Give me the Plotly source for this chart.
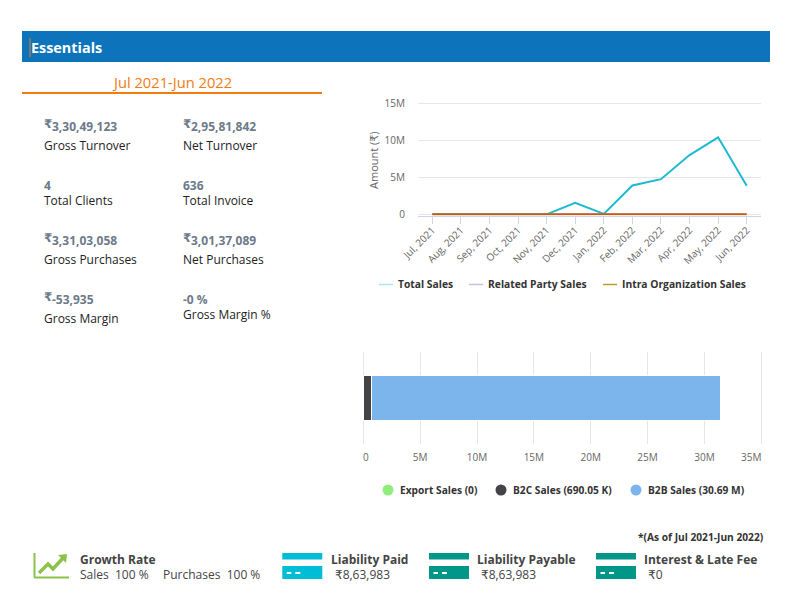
import plotly.graph_objects as go

W, H = 796, 602
FONT = "Open Sans, DejaVu Sans, sans-serif"

# line chart data
months = ["Jul, 2021", "Aug, 2021", "Sep, 2021", "Oct, 2021", "Nov, 2021", "Dec, 2021",
          "Jan, 2022", "Feb, 2022", "Mar, 2022", "Apr, 2022", "May, 2022", "Jun, 2022"]
total_sales = [0, 0, 0, 0, 0, 1550000, 50000, 3900000, 4750000, 8000000, 10400000, 3850000]
related_party_sales = [0] * 12
intra_org_sales = [0] * 12
line_names = ["Total Sales", "Related Party Sales", "Intra Organization Sales"]

# stacked bar data
export_sales = 0
b2c_sales = 690050
b2b_sales = 30690000
bar_names = ["Export Sales (0)", "B2C Sales (690.05 K)", "B2B Sales (30.69 M)"]
bar_ticks = [0, 5e6, 10e6, 15e6, 20e6, 25e6, 30e6, 35e6]

# figures on the left
kpi_values = ["3,30,49,123", "2,95,81,842", "4", "636", "3,31,03,058", "3,01,37,089", "-53,935", "-0 %"]
kpi_labels = ["Gross Turnover", "Net Turnover", "Total Clients", "Total Invoice",
              "Gross Purchases", "Net Purchases", "Gross Margin", "Gross Margin %"]
kpi_rupee = [True, True, False, False, True, True, True, False]
kpi_x = [43, 182, 43, 182, 43, 182, 43, 182]
kpi_value_y = [126.5, 126.5, 185.5, 185.5, 240.5, 240.5, 299, 299.5]
kpi_label_y = [145.5, 145.5, 200.5, 200.5, 259.5, 259.5, 318.5, 314.5]


def px(x):
    return x / W


def py(y):
    return 1 - y / H


def text(s, x, y, size=12, color="#222222", bold=False, anchor="left"):
    if bold:
        s = "<b>" + s + "</b>"
    return dict(text=s, x=px(x), y=py(y), xref="paper", yref="paper", showarrow=False,
                xanchor=anchor, yanchor="middle", borderpad=0,
                font=dict(family=FONT, size=size, color=color))


def rect(x0, y0, x1, y1, color):
    return dict(type="rect", xref="paper", yref="paper", x0=px(x0), x1=px(x1), y0=py(y0), y1=py(y1),
                fillcolor=color, line=dict(width=0), layer="above")


def seg(x0, y0, x1, y1, color, width=1.5):
    return dict(type="line", xref="paper", yref="paper", x0=px(x0), x1=px(x1), y0=py(y0), y1=py(y1),
                line=dict(color=color, width=width), layer="above")


def card(x, color):
    return [rect(x, 553, x + 40, 559.5, color), rect(x, 566, x + 40, 579, color),
            rect(x + 4.5, 572, x + 9, 574, "#ffffff"), rect(x + 13, 572, x + 18, 574, "#ffffff")]


fig = go.Figure()
fig.add_trace(go.Scatter(x=months, y=total_sales, mode="lines", name=line_names[0],
                         line=dict(color="#1cb9d3", width=2), xaxis="x", yaxis="y"))
fig.add_trace(go.Scatter(x=months, y=related_party_sales, mode="lines", name=line_names[1],
                         line=dict(color="#c0c4e0", width=1.5), xaxis="x", yaxis="y"))
fig.add_trace(go.Scatter(x=months, y=intra_org_sales, mode="lines", name=line_names[2],
                         line=dict(color="#c55a11", width=2), xaxis="x", yaxis="y"))

fig.add_trace(go.Bar(y=["Sales"], x=[export_sales], orientation="h", name=bar_names[0],
                     marker=dict(color="#90ed7d", line=dict(color="#ffffff", width=1)), xaxis="x2", yaxis="y2"))
fig.add_trace(go.Bar(y=["Sales"], x=[b2c_sales], orientation="h", name=bar_names[1],
                     marker=dict(color="#434348", line=dict(color="#ffffff", width=1)), xaxis="x2", yaxis="y2"))
fig.add_trace(go.Bar(y=["Sales"], x=[b2b_sales], orientation="h", name=bar_names[2],
                     marker=dict(color="#7cb5ec", line=dict(color="#ffffff", width=1)), xaxis="x2", yaxis="y2"))

annotations = [
    text("Essentials", 29.5, 47.5, size=14.4, color="#ffffff", bold=True),
    text("Jul 2021-Jun 2022", 172, 82, size=14.7, color="#f47b10", anchor="center"),
    text("Amount (₹)", 374, 160, size=11, color="#666666", anchor="center"),
    text("*(As of Jul 2021-Jun 2022)", 765, 537, size=10.2, color="#333333", bold=True, anchor="right"),
    text("Growth Rate", 79, 559, size=12, color="#444444", bold=True),
    text("Sales  100 %", 79, 574, size=12, color="#444444"),
    text("Purchases  100 %", 162, 574, size=12, color="#444444"),
    text("Liability Paid", 330, 559, size=12, color="#444444", bold=True),
    text("₹8,63,983", 334, 574, size=12, color="#444444"),
    text("Liability Payable", 476, 559, size=12, color="#444444", bold=True),
    text("₹8,63,983", 480, 574, size=12, color="#444444"),
    text("Interest & Late Fee", 643, 559, size=12, color="#444444", bold=True),
    text("₹0", 647, 574, size=12, color="#444444"),
    # first and last labels of the bar axis sit off their ticks
    text("0", 366, 456.7, size=10, color="#666666", anchor="center"),
    text("35M", 751, 456.7, size=10, color="#666666", anchor="center"),
]
annotations[2]["textangle"] = -90

for value, label, rupee, x, vy, ly in zip(kpi_values, kpi_labels, kpi_rupee, kpi_x, kpi_value_y, kpi_label_y):
    if rupee:
        annotations.append(text("₹", x, vy - 3, size=12, color="#6c7a89", bold=True))
        annotations.append(text(value, x + 7.5, vy, size=12, color="#6c7a89", bold=True))
    else:
        annotations.append(text(value, x, vy, size=12, color="#6c7a89", bold=True))
    annotations.append(text(label, x, ly, size=12, color="#222222"))

shapes = [
    rect(22, 31, 770, 62, "#0d74bc"),
    seg(30, 38, 30, 57, "#f47b10", 1),
    seg(22, 93, 322, 93, "#f47b10", 2),
    # growth icon
    seg(34.5, 553, 34.5, 577.5, "#8bc34a", 2),
    seg(34, 577.5, 69, 577.5, "#8bc34a", 2),
    dict(type="path", xref="paper", yref="paper", layer="above",
         path="M %f,%f L %f,%f L %f,%f L %f,%f" % (px(39), py(573), px(48), py(564), px(53), py(569), px(63), py(558)),
         line=dict(color="#8bc34a", width=3.5)),
    dict(type="path", xref="paper", yref="paper", layer="above", fillcolor="#8bc34a", line=dict(width=0),
         path="M %f,%f L %f,%f L %f,%f Z" % (px(58), py(555), px(67), py(554), px(66), py(563))),
]
shapes += card(282.3, "#00bcd4") + card(429, "#009688") + card(596, "#009688")

# hand placed legends, the swatches are narrower than plotly's own
line_legend_x = [379, 469, 603]
line_legend_colors = ["#a5e9ef", "#c0c4e0", "#c29a2e"]
for name, x, c in zip(line_names, line_legend_x, line_legend_colors):
    shapes.append(seg(x, 284.5, x + 14, 284.5, c, 1.5))
    annotations.append(text(name, x + 17.5, 284, size=10.3, color="#333333", bold=True))

bar_legend_x = [388, 501, 636]
bar_legend_colors = ["#90ed7d", "#434348", "#7cb5ec"]
for name, x, c in zip(bar_names, bar_legend_x, bar_legend_colors):
    shapes.append(dict(type="circle", xref="paper", yref="paper", layer="above", fillcolor=c, line=dict(width=0),
                       x0=px(x - 5.5), x1=px(x + 5.5), y0=py(495.5), y1=py(484.5)))
    annotations.append(text(name, x + 10.5, 490.3, size=10.2, color="#333333", bold=True))

fig.update_layout(
    width=W, height=H, margin=dict(l=0, r=0, t=0, b=0), paper_bgcolor="#ffffff", plot_bgcolor="#ffffff",
    showlegend=False, barmode="stack", bargap=0.518, font=dict(family=FONT),
    annotations=annotations, shapes=shapes,
    xaxis=dict(domain=[px(418), px(761)], type="category", range=[-0.5, 11.5], tickangle=-45, automargin=False,
               ticks="outside", ticklen=7, tickcolor="#ccd6eb", linecolor="#ccd6eb", showline=True, showgrid=False,
               layer="below traces", ticklabelstandoff=-3,
               tickfont=dict(size=10, color="#666666", family=FONT), anchor="y"),
    # ranges run a little past the end ticks, plotly drops gridlines on the edge and clips lines there
    yaxis=dict(domain=[py(215.5), py(102.1)], range=[-0.16e6, 15.16e6], tickvals=[0, 5e6, 10e6, 15e6],
               automargin=False, ticktext=["0", "5M", "10M", "15M"], showgrid=True, gridcolor="#e6e6e6",
               zeroline=False, ticklabelstandoff=12,
               tickfont=dict(size=10, color="#666666", family=FONT), anchor="x"),
    xaxis2=dict(domain=[px(362.16), px(762.44)], range=[-0.1e6, 35.1e6], tickvals=bar_ticks, automargin=False,
                ticktext=["", "5M", "10M", "15M", "20M", "25M", "30M", ""], showgrid=True, gridcolor="#e6e6e6",
                zeroline=False, ticklabelstandoff=6,
                tickfont=dict(size=10, color="#666666", family=FONT), anchor="y2"),
    yaxis2=dict(domain=[py(444), py(352)], showticklabels=False, showgrid=False, zeroline=False, anchor="x2",
                automargin=False),
)

# the page's default body margin would push the figure off the window
fig.write_html("out.html", config={"displayModeBar": False}, post_script="document.body.style.margin='0';")
